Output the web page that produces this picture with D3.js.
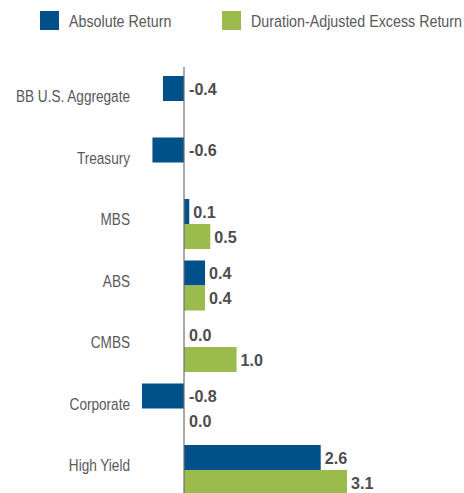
<!doctype html>
<html lang="en">
<head>
<meta charset="UTF-8">
<title>Returns</title>
<script src="https://d3js.org/d3.v7.min.js"></script>
<style>
  body { margin: 0; background: #fff; }
  text { font-family: "Liberation Sans", Arial, sans-serif; }
</style>
</head>
<body>
<div id="chart"></div>
<script>
// data
var categories = ["BB U.S. Aggregate", "Treasury", "MBS", "ABS", "CMBS", "Corporate", "High Yield"];
var seriesNames = ["Absolute Return", "Duration-Adjusted Excess Return"];
var absoluteReturn = [-0.4, -0.6, 0.1, 0.4, 0.0, -0.8, 2.6];
var excessReturn = [null, null, 0.5, 0.4, 1.0, 0.0, 3.1];
var colors = ["#00508a", "#9bbb4c"];

var width = 464, height = 493;
var fmt = function(v) { return d3.format(".1f")(v).replace("\u2212", "-"); };

var svg = d3.select("#chart").append("svg")
  .attr("width", width)
  .attr("height", height);

// scales
var xScale = d3.scaleLinear().domain([0, 3.1]).range([184, 347]);
var yScale = d3.scaleBand().domain(categories).range([76, 495]).paddingInner(0.187).paddingOuter(0);
var ySub = d3.scaleBand().domain(seriesNames).range([0, yScale.bandwidth()]);

var rows = categories.map(function(c, i) {
  return { cat: c, vals: [absoluteReturn[i], excessReturn[i]] };
});

var groups = svg.selectAll("g.grp")
  .data(rows)
  .enter().append("g")
  .attr("class", "grp")
  .attr("transform", function(d) { return "translate(0," + yScale(d.cat) + ")"; });

var cells = groups.selectAll("g.cell")
  .data(function(d) {
    return d.vals.map(function(v, j) { return { v: v, s: seriesNames[j], j: j }; })
      .filter(function(e) { return e.v !== null; });
  })
  .enter().append("g").attr("class", "cell");

cells.append("rect")
  .attr("x", function(d) { return xScale(Math.min(0, d.v)); })
  .attr("y", function(d) { return ySub(d.s); })
  .attr("width", function(d) { return Math.abs(xScale(d.v) - xScale(0)); })
  .attr("height", ySub.bandwidth())
  .attr("fill", function(d) { return colors[d.j]; });

cells.append("text")
  .attr("transform", function(d) {
    var x = d.v > 0 ? xScale(d.v) + 4 : xScale(0) + 5;
    return "translate(" + x + "," + (ySub(d.s) + ySub.bandwidth() / 2) + ") scale(0.95,1)";
  })
  .attr("dy", "0.36em")
  .attr("font-size", 17)
  .attr("font-weight", "bold")
  .attr("fill", "#4d4d4f")
  .text(function(d) { return fmt(d.v); });

// category labels
svg.selectAll("text.cat")
  .data(categories)
  .enter().append("text")
  .attr("class", "cat")
  .attr("transform", function(d) {
    return "translate(130," + (yScale(d) + yScale.bandwidth() / 2 - 5) + ") scale(0.8,1)";
  })
  .attr("dy", "0.36em")
  .attr("text-anchor", "end")
  .attr("font-size", 17)
  .attr("fill", "#58585a")
  .text(function(d) { return d; });

// zero line
svg.append("line")
  .attr("x1", xScale(0)).attr("x2", xScale(0))
  .attr("y1", 67).attr("y2", height)
  .attr("stroke", "#6d6e71")
  .attr("stroke-width", 1.2);

// legend
var legendX = [40, 222];
var legend = svg.selectAll("g.leg")
  .data(seriesNames)
  .enter().append("g")
  .attr("class", "leg")
  .attr("transform", function(d, i) { return "translate(" + legendX[i] + ",11)"; });

legend.append("rect")
  .attr("width", 19).attr("height", 19)
  .attr("fill", function(d, i) { return colors[i]; });

legend.append("text")
  .attr("transform", "translate(29,10) scale(0.84,1)")
  .attr("dy", "0.36em")
  .attr("font-size", 17)
  .attr("fill", "#58585a")
  .text(function(d) { return d; });
</script>
</body>
</html>
